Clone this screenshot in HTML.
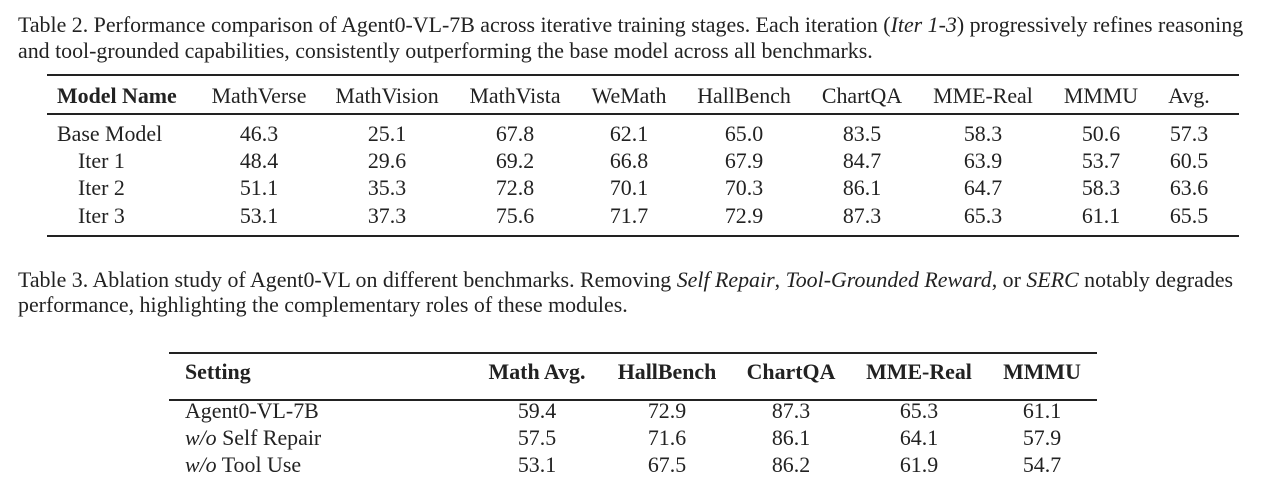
<!DOCTYPE html>
<html><head><meta charset="utf-8"><style>
body{margin:0;width:1280px;height:476px;background:#fff;position:relative;overflow:hidden;font-family:"Liberation Serif",serif;color:#222}
.t{position:absolute;white-space:nowrap;font-size:21.9px;line-height:22px;transform:translateY(-50%)}
.c{transform:translate(-50%,-50%)}
.b{font-weight:bold}
.l{position:absolute;background:#222}
</style></head><body>
<div class="t" style="left:18px;top:25px">Table 2. Performance comparison of Agent0-VL-7B across iterative training stages. Each iteration (<i>Iter 1-3</i>) progressively refines reasoning</div>
<div class="t" style="left:18px;top:51px">and tool-grounded capabilities, consistently outperforming the base model across all benchmarks.</div>

<div class="l" style="left:47px;top:74px;width:1192px;height:2px"></div>
<div class="l" style="left:47px;top:113px;width:1192px;height:1.5px"></div>
<div class="l" style="left:47px;top:235px;width:1192px;height:2px"></div>

<div class="t b" style="left:57px;top:96px">Model Name</div>
<div class="t c" style="left:259px;top:96px">MathVerse</div>
<div class="t c" style="left:387px;top:96px">MathVision</div>
<div class="t c" style="left:515px;top:96px">MathVista</div>
<div class="t c" style="left:629px;top:96px">WeMath</div>
<div class="t c" style="left:744px;top:96px">HallBench</div>
<div class="t c" style="left:862px;top:96px">ChartQA</div>
<div class="t c" style="left:983px;top:96px">MME-Real</div>
<div class="t c" style="left:1101px;top:96px">MMMU</div>
<div class="t c" style="left:1189px;top:96px">Avg.</div>

<div class="t" style="left:57px;top:134px">Base Model</div>
<div class="t" style="left:78px;top:161px">Iter 1</div>
<div class="t" style="left:78px;top:188px">Iter 2</div>
<div class="t" style="left:78px;top:216px">Iter 3</div>

<div class="t c" style="left:259px;top:134px">46.3</div><div class="t c" style="left:387px;top:134px">25.1</div><div class="t c" style="left:515px;top:134px">67.8</div><div class="t c" style="left:629px;top:134px">62.1</div><div class="t c" style="left:744px;top:134px">65.0</div><div class="t c" style="left:862px;top:134px">83.5</div><div class="t c" style="left:983px;top:134px">58.3</div><div class="t c" style="left:1101px;top:134px">50.6</div><div class="t c" style="left:1189px;top:134px">57.3</div>
<div class="t c" style="left:259px;top:161px">48.4</div><div class="t c" style="left:387px;top:161px">29.6</div><div class="t c" style="left:515px;top:161px">69.2</div><div class="t c" style="left:629px;top:161px">66.8</div><div class="t c" style="left:744px;top:161px">67.9</div><div class="t c" style="left:862px;top:161px">84.7</div><div class="t c" style="left:983px;top:161px">63.9</div><div class="t c" style="left:1101px;top:161px">53.7</div><div class="t c" style="left:1189px;top:161px">60.5</div>
<div class="t c" style="left:259px;top:188px">51.1</div><div class="t c" style="left:387px;top:188px">35.3</div><div class="t c" style="left:515px;top:188px">72.8</div><div class="t c" style="left:629px;top:188px">70.1</div><div class="t c" style="left:744px;top:188px">70.3</div><div class="t c" style="left:862px;top:188px">86.1</div><div class="t c" style="left:983px;top:188px">64.7</div><div class="t c" style="left:1101px;top:188px">58.3</div><div class="t c" style="left:1189px;top:188px">63.6</div>
<div class="t c" style="left:259px;top:216px">53.1</div><div class="t c" style="left:387px;top:216px">37.3</div><div class="t c" style="left:515px;top:216px">75.6</div><div class="t c" style="left:629px;top:216px">71.7</div><div class="t c" style="left:744px;top:216px">72.9</div><div class="t c" style="left:862px;top:216px">87.3</div><div class="t c" style="left:983px;top:216px">65.3</div><div class="t c" style="left:1101px;top:216px">61.1</div><div class="t c" style="left:1189px;top:216px">65.5</div>

<div class="t" style="left:18px;top:280px">Table 3. Ablation study of Agent0-VL on different benchmarks. Removing <i>Self Repair</i>, <i>Tool-Grounded Reward</i>, or <i>SERC</i> notably degrades</div>
<div class="t" style="left:18px;top:305px">performance, highlighting the complementary roles of these modules.</div>

<div class="l" style="left:169px;top:352px;width:928px;height:2px"></div>
<div class="l" style="left:169px;top:399px;width:928px;height:1.5px"></div>

<div class="t b" style="left:185px;top:372px">Setting</div>
<div class="t c b" style="left:537px;top:372px">Math Avg.</div>
<div class="t c b" style="left:667px;top:372px">HallBench</div>
<div class="t c b" style="left:791px;top:372px">ChartQA</div>
<div class="t c b" style="left:919px;top:372px">MME-Real</div>
<div class="t c b" style="left:1042px;top:372px">MMMU</div>

<div class="t" style="left:185px;top:411px">Agent0-VL-7B</div>
<div class="t" style="left:185px;top:438px"><i>w/o</i> Self Repair</div>
<div class="t" style="left:185px;top:465px"><i>w/o</i> Tool Use</div>

<div class="t c" style="left:537px;top:411px">59.4</div><div class="t c" style="left:667px;top:411px">72.9</div><div class="t c" style="left:791px;top:411px">87.3</div><div class="t c" style="left:919px;top:411px">65.3</div><div class="t c" style="left:1042px;top:411px">61.1</div>
<div class="t c" style="left:537px;top:438px">57.5</div><div class="t c" style="left:667px;top:438px">71.6</div><div class="t c" style="left:791px;top:438px">86.1</div><div class="t c" style="left:919px;top:438px">64.1</div><div class="t c" style="left:1042px;top:438px">57.9</div>
<div class="t c" style="left:537px;top:465px">53.1</div><div class="t c" style="left:667px;top:465px">67.5</div><div class="t c" style="left:791px;top:465px">86.2</div><div class="t c" style="left:919px;top:465px">61.9</div><div class="t c" style="left:1042px;top:465px">54.7</div>
</body></html>
